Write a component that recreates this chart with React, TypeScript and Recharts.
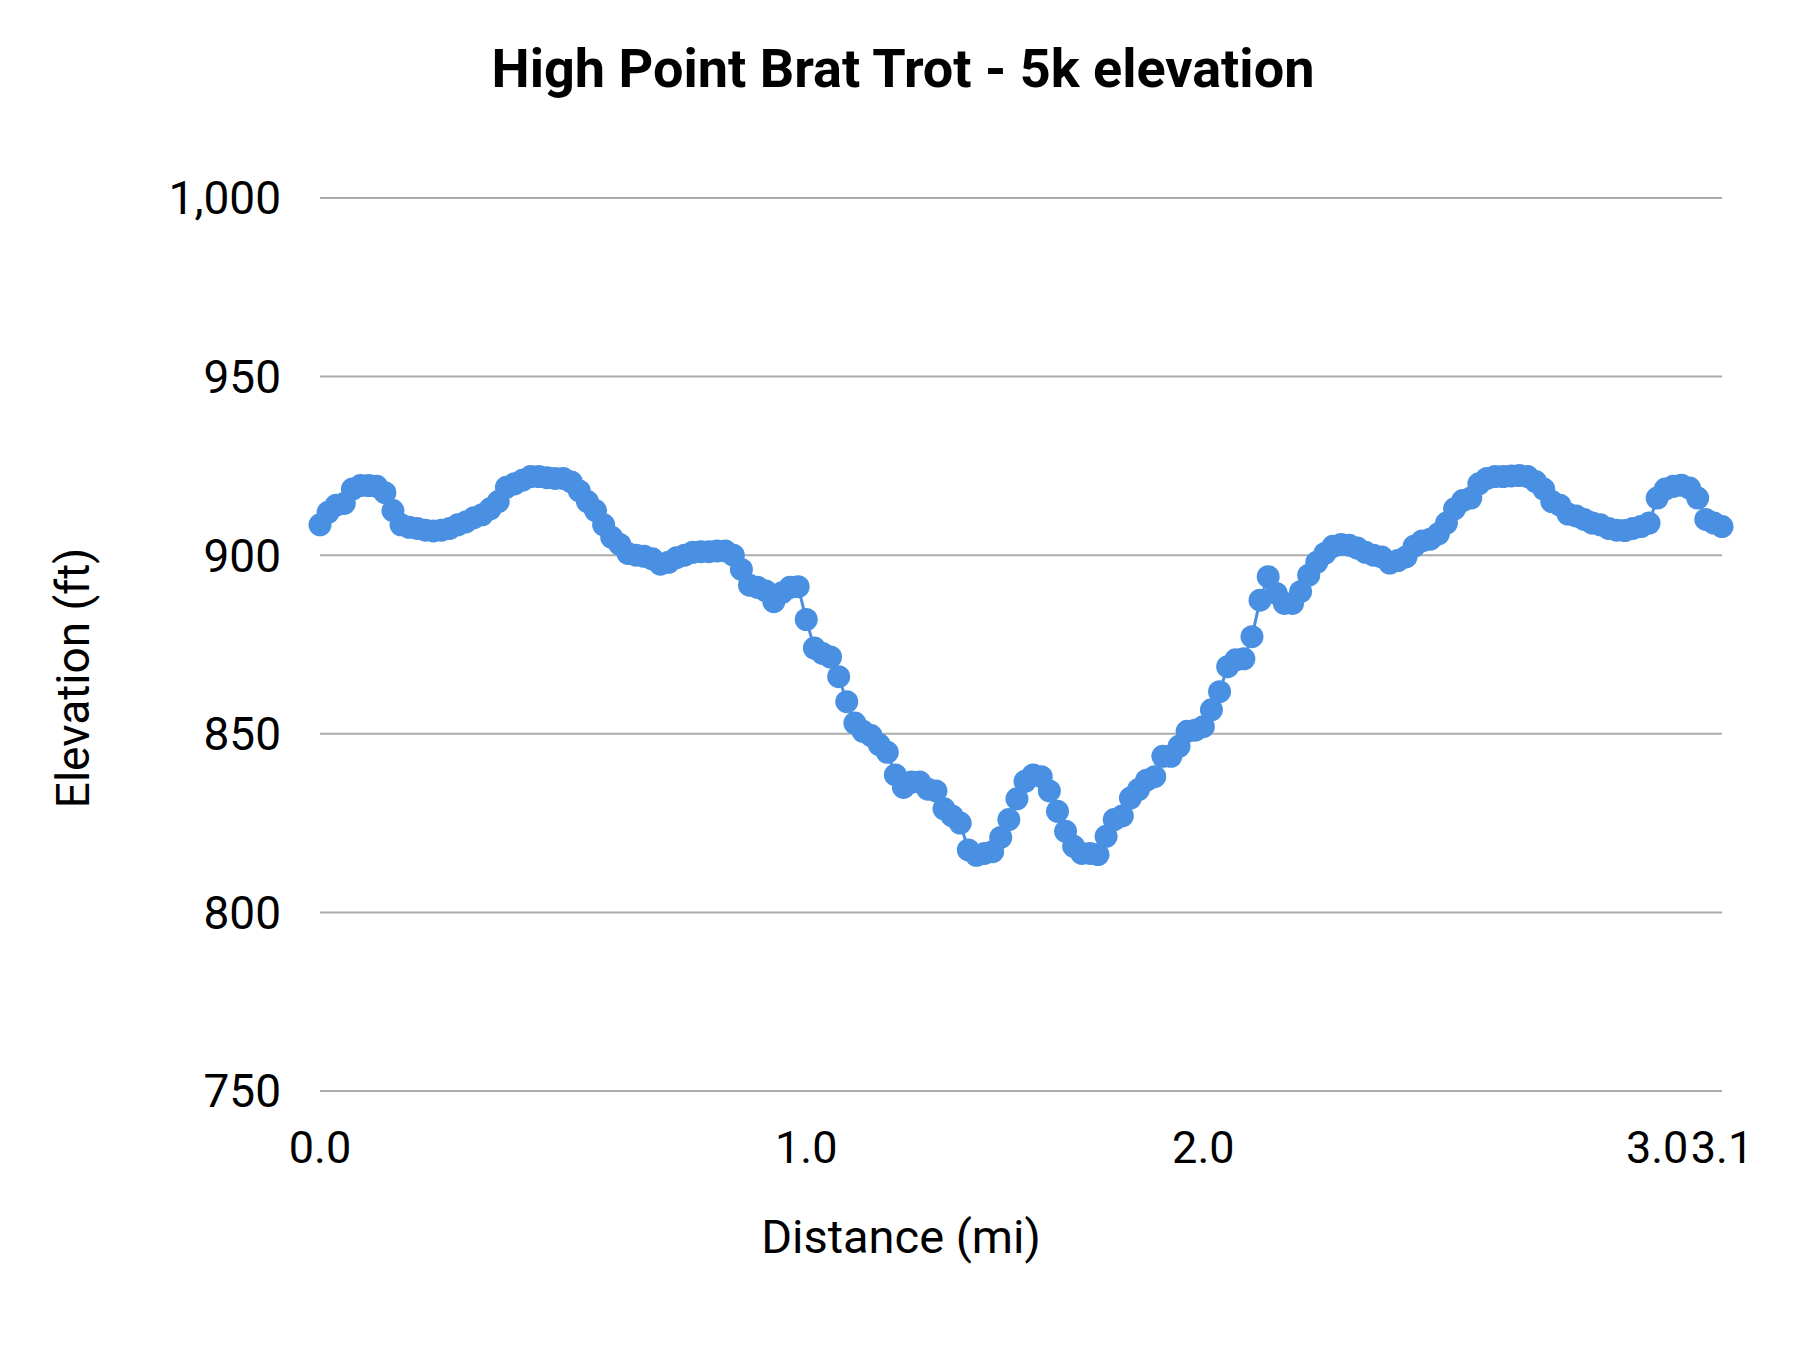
import React from 'react';
import { LineChart, Line, XAxis, YAxis, CartesianGrid } from 'recharts';

// elevation in feet, one value per sample along the course
const elevation = [
  908.5, 912, 914, 914.5, 918.5, 919.5, 919.5, 919.3, 917.5, 912.5,
  908.5, 907.8, 907.5, 907, 906.8, 907, 907.5, 908.5, 909.3, 910.5,
  911.3, 913, 915, 919, 920, 921, 922, 922, 921.7, 921.5,
  921.5, 920.5, 918, 915, 912.5, 908.5, 905, 903, 900.5, 900,
  899.7, 899, 897.5, 898, 899.3, 900, 900.8, 901, 901, 901.2,
  901.2, 900, 896, 891.6, 891, 890, 887, 889.5, 891, 891.2,
  882, 874, 872.5, 871.5, 866, 859, 853, 850.7, 849.5, 847,
  844.8, 838.5, 835, 836.5, 836.5, 834.5, 834, 829, 827, 825,
  817.5, 816, 816.5, 817, 821, 826, 831.8, 836.7, 838.5, 838,
  834, 828.3, 822.7, 818.5, 816.5, 816.5, 816.2, 821.3, 826, 827,
  832, 834.4, 837, 838, 843.7, 843.7, 846.5, 850.7, 851, 852,
  856.7, 861.8, 868.8, 870.7, 871, 877.2, 887.4, 894, 889.3, 886.5,
  886.5, 889.8, 894.4, 898, 900.5, 902.5, 903, 902.8, 902, 900.8,
  900, 899.5, 897.8, 898.5, 899.5, 902.5, 904, 904.5, 906, 909,
  913, 915.3, 916, 920, 921.5, 922, 922, 922.2, 922.3, 922,
  920.6, 918.5, 915, 914, 911.5, 911, 910, 909, 908.5, 907.5,
  907, 906.9, 907.5, 908, 909, 916, 918.5, 919.3, 919.6, 918.8,
  916, 910, 909, 908,
];

// sample index where each distance label appears
const distanceTickIndex = [0, 60, 109, 165, 173];
const distanceTickLabels = ['0.0', '1.0', '2.0', '3.0', '3.1'];

const elevationTicks = [750, 800, 850, 900, 950, 1000];

const data = elevation.map((elev, i) => ({ i, elev }));

const BLUE = '#4a90e2';
const FONT = 'Roboto';

export default function App() {
  return (
    <div style={{ position: 'absolute', left: 0, top: 0, width: 1800, height: 1350, background: '#fff', fontFamily: FONT }}>
      <LineChart width={1800} height={1350} data={data} margin={{ top: 198, right: 78, bottom: 0, left: 0 }}>
        <CartesianGrid vertical={false} stroke="#ababab" strokeWidth={2} />
        <XAxis
          dataKey="i"
          type="number"
          domain={[0, elevation.length - 1]}
          ticks={distanceTickIndex}
          interval={0}
          tickFormatter={(v: number) => distanceTickLabels[distanceTickIndex.indexOf(v)] ?? ''}
          axisLine={false}
          tickLine={false}
          tickSize={0}
          tickMargin={40}
          height={259}
          tick={{ fill: '#000', fontSize: 45, fontFamily: FONT }}
        />
        <YAxis
          domain={[750, 1000]}
          ticks={elevationTicks}
          interval={0}
          tickFormatter={(v: number) => v.toLocaleString('en-US')}
          axisLine={false}
          tickLine={false}
          tickSize={0}
          tickMargin={39}
          width={320}
          tick={{ fill: '#000', fontSize: 46, fontFamily: FONT }}
        />
        <Line
          type="linear"
          dataKey="elev"
          stroke={BLUE}
          strokeWidth={3}
          dot={{ r: 11.5, fill: BLUE, stroke: BLUE, strokeWidth: 0 }}
          activeDot={false}
          isAnimationActive={false}
        />
      </LineChart>
      <svg width={1800} height={1350} style={{ position: 'absolute', left: 0, top: 0, pointerEvents: 'none' }}>
        <text x={903} y={87} textAnchor="middle" fontFamily={FONT} fontWeight="bold" fontSize={54} fill="#000">
          High Point Brat Trot - 5k elevation
        </text>
        <text x={901} y={1253} textAnchor="middle" fontFamily={FONT} fontSize={47} fill="#000">
          Distance (mi)
        </text>
        <text x={89} y={678} textAnchor="middle" fontFamily={FONT} fontSize={46} fill="#000" transform="rotate(-90 89 678)">
          Elevation (ft)
        </text>
      </svg>
    </div>
  );
}
